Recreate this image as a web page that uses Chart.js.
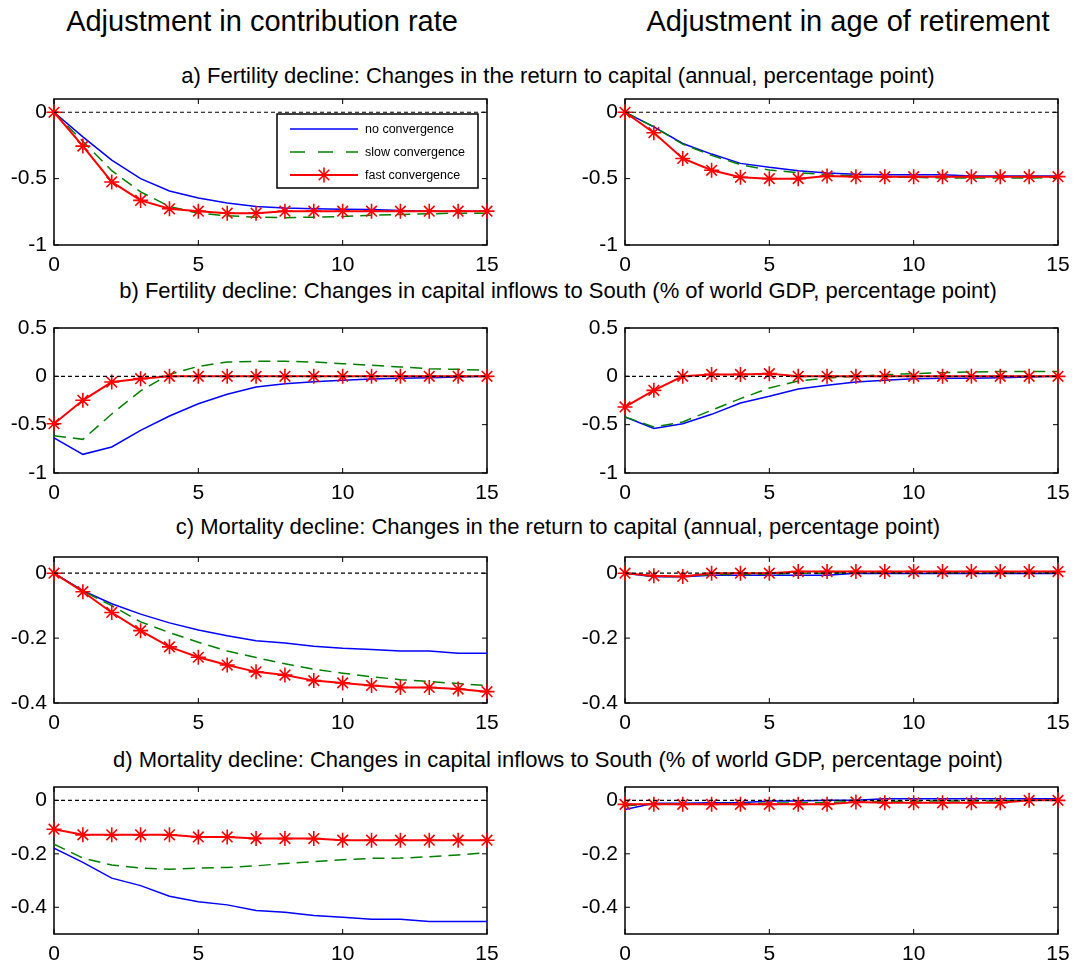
<!DOCTYPE html>
<html>
<head>
<meta charset="utf-8">
<title>Convergence scenarios</title>
<script src="https://cdn.jsdelivr.net/npm/chart.js@4.4.1/dist/chart.umd.min.js"></script>
<style>
  body { margin: 0; background: #fff; }
  #page { position: relative; width: 1078px; height: 967px; overflow: hidden; font-family: "Liberation Sans", Arial, sans-serif; color: #000; }
  .coltitle { position: absolute; top: 7px; font-size: 29px; line-height: 29px; white-space: nowrap; transform: translateX(-50%); }
  .rowtitle { position: absolute; left: 558px; font-size: 22px; line-height: 22px; white-space: nowrap; transform: translateX(-50%); }
  canvas { position: absolute; }
</style>
</head>
<body>
<div id="page">
  <div class="coltitle" style="left:262px">Adjustment in contribution rate</div>
  <div class="coltitle" style="left:848px">Adjustment in age of retirement</div>
  <div class="rowtitle" style="top:65px">a) Fertility decline: Changes in the return to capital (annual, percentage point)</div>
  <div class="rowtitle" style="top:280px">b) Fertility decline: Changes in capital inflows to South (% of world GDP, percentage point)</div>
  <div class="rowtitle" style="top:516px">c) Mortality decline: Changes in the return to capital (annual, percentage point)</div>
  <div class="rowtitle" style="top:749px">d) Mortality decline: Changes in capital inflows to South (% of world GDP, percentage point)</div>
  <canvas id="aLeft"></canvas>
  <canvas id="aRight"></canvas>
  <canvas id="bLeft"></canvas>
  <canvas id="bRight"></canvas>
  <canvas id="cLeft"></canvas>
  <canvas id="cRight"></canvas>
  <canvas id="dLeft"></canvas>
  <canvas id="dRight"></canvas>
</div>
<script>
// years after the shock
const horizon = [0, 1, 2, 3, 4, 5, 6, 7, 8, 9, 10, 11, 12, 13, 14, 15];
const xTicks = [0, 5, 10, 15];
const ticksA = [-1, -0.5, 0];
const ticksB = [-1, -0.5, 0, 0.5];
const ticksCD = [-0.4, -0.2, 0];
const zeroLine = [0, 0, 0, 0, 0, 0, 0, 0, 0, 0, 0, 0, 0, 0, 0, 0];
const seriesNames = ["no convergence", "slow convergence", "fast convergence"];

// a) fertility decline, return to capital
const aNoContrib = [0, -0.185, -0.36, -0.5, -0.593, -0.646, -0.684, -0.71, -0.722, -0.727, -0.73, -0.732, -0.74, -0.745, -0.745, -0.745];
const aSlowContrib = [0, -0.22, -0.44, -0.6, -0.71, -0.76, -0.78, -0.79, -0.795, -0.79, -0.785, -0.775, -0.77, -0.765, -0.76, -0.76];
const aFastContrib = [0, -0.255, -0.525, -0.664, -0.727, -0.745, -0.76, -0.76, -0.745, -0.745, -0.745, -0.745, -0.745, -0.745, -0.745, -0.745];
const aNoRetire = [0, -0.11, -0.235, -0.315, -0.385, -0.415, -0.44, -0.457, -0.467, -0.47, -0.47, -0.47, -0.48, -0.48, -0.48, -0.48];
const aSlowRetire = [0, -0.11, -0.24, -0.325, -0.395, -0.435, -0.455, -0.47, -0.48, -0.49, -0.49, -0.495, -0.495, -0.495, -0.495, -0.49];
const aFastRetire = [0, -0.154, -0.348, -0.437, -0.49, -0.5, -0.5, -0.48, -0.485, -0.485, -0.485, -0.485, -0.485, -0.485, -0.485, -0.485];

// b) fertility decline, capital inflows to South
const bNoContrib = [-0.638, -0.807, -0.731, -0.559, -0.41, -0.283, -0.186, -0.11, -0.076, -0.055, -0.041, -0.028, -0.02, -0.014, -0.007, 0];
const bSlowContrib = [-0.614, -0.652, -0.39, -0.15, 0.02, 0.103, 0.148, 0.155, 0.155, 0.148, 0.131, 0.114, 0.097, 0.079, 0.072, 0.062];
const bFastContrib = [-0.49, -0.248, -0.059, -0.024, 0, 0, 0, 0, 0, 0, 0, 0, 0, 0, 0, 0];
const bNoRetire = [-0.42, -0.54, -0.49, -0.393, -0.276, -0.207, -0.131, -0.093, -0.059, -0.041, -0.024, -0.02, -0.02, -0.014, -0.007, 0];
const bSlowRetire = [-0.42, -0.524, -0.472, -0.35, -0.231, -0.121, -0.048, -0.017, 0, 0.017, 0.028, 0.038, 0.045, 0.05, 0.05, 0.05];
const bFastRetire = [-0.317, -0.145, 0, 0.02, 0.02, 0.028, 0, 0, 0, 0, 0, 0, 0, 0, 0, 0];

// c) mortality decline, return to capital
const cNoContrib = [0, -0.054, -0.094, -0.126, -0.153, -0.175, -0.193, -0.208, -0.215, -0.225, -0.231, -0.235, -0.24, -0.24, -0.247, -0.247];
const cSlowContrib = [0, -0.055, -0.1, -0.15, -0.183, -0.213, -0.24, -0.26, -0.279, -0.296, -0.308, -0.319, -0.328, -0.334, -0.34, -0.346];
const cFastContrib = [0, -0.057, -0.121, -0.177, -0.227, -0.259, -0.283, -0.304, -0.314, -0.331, -0.338, -0.346, -0.352, -0.352, -0.357, -0.365];
const cNoRetire = [0, -0.011, -0.011, -0.006, -0.006, -0.006, -0.006, -0.006, 0, -0.001, -0.001, -0.001, -0.001, -0.001, -0.001, -0.001];
const cSlowRetire = [0, -0.01, -0.01, -0.004, -0.004, -0.003, 0, 0, 0.002, 0.002, 0.002, 0.002, 0.002, 0.002, 0.002, 0.002];
const cFastRetire = [0, -0.008, -0.01, 0, 0, 0, 0.005, 0.005, 0.005, 0.005, 0.005, 0.005, 0.005, 0.005, 0.005, 0.005];

// d) mortality decline, capital inflows to South
const dNoContrib = [-0.179, -0.232, -0.291, -0.319, -0.359, -0.379, -0.391, -0.412, -0.419, -0.431, -0.437, -0.445, -0.445, -0.453, -0.453, -0.453];
const dSlowContrib = [-0.164, -0.216, -0.242, -0.253, -0.258, -0.253, -0.251, -0.245, -0.236, -0.229, -0.222, -0.217, -0.216, -0.211, -0.204, -0.196];
const dFastContrib = [-0.108, -0.129, -0.129, -0.129, -0.129, -0.137, -0.137, -0.143, -0.143, -0.143, -0.149, -0.149, -0.149, -0.149, -0.149, -0.149];
const dNoRetire = [-0.034, -0.011, -0.011, -0.009, -0.009, -0.002, -0.002, 0, 0, 0.006, 0.006, 0.006, 0.006, 0.006, 0.006, 0.006];
const dSlowRetire = [-0.02, -0.013, -0.013, -0.012, -0.012, -0.01, -0.01, -0.008, -0.004, -0.004, -0.003, -0.002, -0.002, -0.002, 0, 0];
const dFastRetire = [-0.015, -0.015, -0.015, -0.015, -0.015, -0.015, -0.015, -0.015, -0.006, -0.009, -0.009, -0.009, -0.009, -0.009, 0, 0];

const FONT = "'Liberation Sans', Arial, sans-serif";
// room around each plot box inside its canvas
const PAD_L = 54, PAD_R = 22, PAD_T = 14, PAD_B = 36;

// draws the matlab style box with inward ticks
const framePlugin = {
  id: "frame",
  beforeDatasetsDraw: function (chart) {
    const ctx = chart.ctx;
    const a = chart.chartArea;
    const xs = chart.scales.x;
    const ys = chart.scales.y;
    ctx.save();
    ctx.strokeStyle = "#000";
    ctx.lineWidth = 1.5;
    ctx.strokeRect(a.left, a.top, a.right - a.left, a.bottom - a.top);
    ctx.lineWidth = 1;
    ctx.beginPath();
    xs.ticks.forEach((t) => {
      const px = xs.getPixelForValue(t.value);
      ctx.moveTo(px, a.bottom);
      ctx.lineTo(px, a.bottom - 5);
      ctx.moveTo(px, a.top);
      ctx.lineTo(px, a.top + 5);
    });
    ys.ticks.forEach((t) => {
      const py = ys.getPixelForValue(t.value);
      ctx.moveTo(a.left, py);
      ctx.lineTo(a.left + 5, py);
      ctx.moveTo(a.right, py);
      ctx.lineTo(a.right - 5, py);
    });
    ctx.stroke();
    ctx.restore();
  },
};

function drawStar(ctx, x, y, r) {
  ctx.beginPath();
  for (let k = 0; k < 4; k++) {
    const ang = (k * Math.PI) / 4;
    ctx.moveTo(x - r * Math.cos(ang), y - r * Math.sin(ang));
    ctx.lineTo(x + r * Math.cos(ang), y + r * Math.sin(ang));
  }
  ctx.stroke();
}

// legend box inside the first panel
const legendBoxPlugin = {
  id: "legendBox",
  afterDatasetsDraw: function (chart, args, opts) {
    if (!opts.show) return;
    const ctx = chart.ctx;
    const a = chart.chartArea;
    const w = 201, h = 74;
    const x0 = a.right - 9 - w;
    const y0 = a.top + 15;
    const rowY = [15, 38, 61];
    ctx.save();
    ctx.fillStyle = "#fff";
    ctx.fillRect(x0, y0, w, h);
    ctx.strokeStyle = "#000";
    ctx.lineWidth = 1.5;
    ctx.strokeRect(x0, y0, w, h);
    ctx.font = "12.5px " + FONT;
    ctx.textBaseline = "middle";
    seriesNames.forEach((name, i) => {
      const ds = chart.data.datasets.find((d) => d.label === name);
      const y = y0 + rowY[i];
      ctx.strokeStyle = ds.borderColor;
      ctx.lineWidth = ds.borderWidth;
      ctx.setLineDash(ds.borderDash ? [15, 13] : []);
      ctx.beginPath();
      ctx.moveTo(x0 + 13, y);
      ctx.lineTo(x0 + 81, y);
      ctx.stroke();
      ctx.setLineDash([]);
      if (ds.pointRadius > 0) {
        ctx.lineWidth = ds.pointBorderWidth;
        drawStar(ctx, x0 + 47, y, ds.pointRadius);
      }
      ctx.fillStyle = "#000";
      ctx.fillText(name, x0 + 88, y + 1);
    });
    ctx.restore();
  },
};

function makePanel(canvasId, box, yMin, yMax, yTicks, noConv, slowConv, fastConv, showLegend) {
  const canvas = document.getElementById(canvasId);
  canvas.width = box.r - box.l + PAD_L + PAD_R;
  canvas.height = box.b - box.t + PAD_T + PAD_B;
  canvas.style.left = box.l - PAD_L + "px";
  canvas.style.top = box.t - PAD_T + "px";

  new Chart(canvas, {
    type: "line",
    data: {
      labels: horizon,
      datasets: [
        {
          label: "zero",
          data: zeroLine,
          borderColor: "#000",
          borderWidth: 1.2,
          borderDash: [4, 3],
          pointRadius: 0,
        },
        {
          label: seriesNames[2],
          data: fastConv,
          borderColor: "#ff0000",
          borderWidth: 2,
          pointStyle: "star",
          pointRadius: 7.5,
          pointBorderWidth: 1.6,
          pointBorderColor: "#ff0000",
          pointBackgroundColor: "#ff0000",
          clip: 10,
        },
        {
          label: seriesNames[1],
          data: slowConv,
          borderColor: "#008000",
          borderWidth: 1.5,
          borderDash: [12, 7],
          pointRadius: 0,
        },
        {
          label: seriesNames[0],
          data: noConv,
          borderColor: "#0000ff",
          borderWidth: 1.5,
          pointRadius: 0,
        },
      ],
    },
    options: {
      responsive: false,
      animation: false,
      devicePixelRatio: 1,
      elements: { line: { tension: 0 } },
      layout: { padding: { top: PAD_T, right: PAD_R, left: 0, bottom: 0 } },
      plugins: {
        legend: { display: false },
        tooltip: { enabled: false },
        legendBox: { show: showLegend },
      },
      scales: {
        x: {
          type: "linear",
          min: 0,
          max: 15,
          grid: { display: false, drawTicks: false },
          border: { display: false },
          ticks: {
            color: "#000",
            font: { family: FONT, size: 21 },
            padding: 8,
            maxRotation: 0,
            autoSkip: false,
            callback: (v) => String(v),
          },
          afterBuildTicks: (s) => {
            s.ticks = xTicks.map((v) => ({ value: v }));
          },
          afterFit: (s) => {
            s.height = PAD_B;
            s.paddingLeft = 0;
            s.paddingRight = 0;
          },
        },
        y: {
          min: yMin,
          max: yMax,
          grid: { display: false, drawTicks: false },
          border: { display: false },
          ticks: {
            color: "#000",
            font: { family: FONT, size: 21 },
            padding: 7,
            autoSkip: false,
            callback: (v) => String(v),
          },
          afterBuildTicks: (s) => {
            s.ticks = yTicks.map((v) => ({ value: v }));
          },
          afterFit: (s) => {
            s.width = PAD_L;
            s.paddingTop = 0;
            s.paddingBottom = 0;
          },
        },
      },
    },
    plugins: [framePlugin, legendBoxPlugin],
  });
}

const colLeft = { l: 54, r: 487 };
const colRight = { l: 625, r: 1058 };
const rowA = { t: 99, b: 245 };
const rowB = { t: 328, b: 473 };
const rowC = { t: 557, b: 703 };
const rowD = { t: 787, b: 934 };

function place(col, row) {
  return { l: col.l, r: col.r, t: row.t, b: row.b };
}

makePanel("aLeft", place(colLeft, rowA), -1, 0.1, ticksA, aNoContrib, aSlowContrib, aFastContrib, true);
makePanel("aRight", place(colRight, rowA), -1, 0.1, ticksA, aNoRetire, aSlowRetire, aFastRetire, false);
makePanel("bLeft", place(colLeft, rowB), -1, 0.5, ticksB, bNoContrib, bSlowContrib, bFastContrib, false);
makePanel("bRight", place(colRight, rowB), -1, 0.5, ticksB, bNoRetire, bSlowRetire, bFastRetire, false);
makePanel("cLeft", place(colLeft, rowC), -0.4, 0.05, ticksCD, cNoContrib, cSlowContrib, cFastContrib, false);
makePanel("cRight", place(colRight, rowC), -0.4, 0.05, ticksCD, cNoRetire, cSlowRetire, cFastRetire, false);
makePanel("dLeft", place(colLeft, rowD), -0.5, 0.05, ticksCD, dNoContrib, dSlowContrib, dFastContrib, false);
makePanel("dRight", place(colRight, rowD), -0.5, 0.05, ticksCD, dNoRetire, dSlowRetire, dFastRetire, false);
</script>
</body>
</html>
